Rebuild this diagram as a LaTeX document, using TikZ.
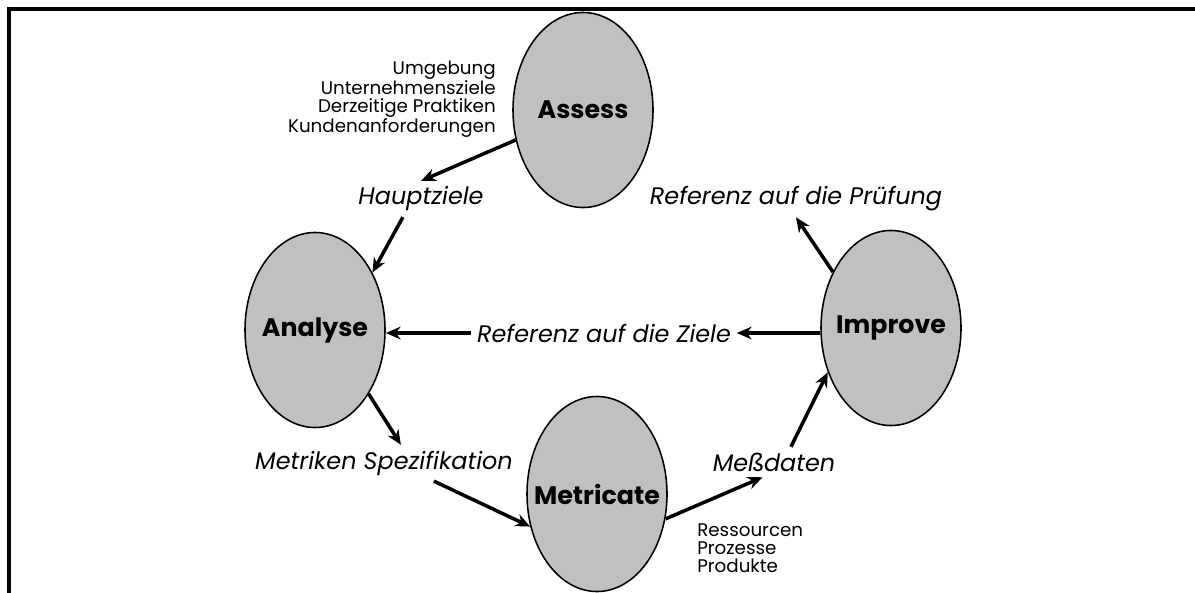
\documentclass[tikz,border=0pt]{standalone}
\usepackage{fontspec}
\setmainfont{Poppins}
\usepackage{tikz}
\usetikzlibrary{arrows.meta,shapes.geometric}

\definecolor{ovalgray}{RGB}{192,192,192}

\begin{document}
\begin{tikzpicture}[x=0.025cm,y=-0.025cm,>={Stealth[length=10.5pt,width=9pt]},
        phase/.style={ellipse,draw,line width=1.1pt,fill=ovalgray,
          minimum width=3.5cm,minimum height=4.875cm,inner ysep=0pt,inner xsep=-20pt,
          font=\fontsize{18}{21}\selectfont\bfseries},
        flowtext/.style={inner sep=4pt,font=\fontsize{17}{20}\selectfont\itshape},
        note/.style={inner sep=0pt,font=\fontsize{13}{12.6}\selectfont},
        flow/.style={->,line width=2.5pt}]

  \clip (0,0) rectangle (1195,592);
  \draw[line width=2.3pt] (9,620) -- (9,9) -- (1220,9);

  \node[phase] (assess)    at (583,110) {Assess};
  \node[phase] (analyse)   at (315,330) {Analyse};
  \node[phase] (improve)   at (891,328) {Improve};
  \node[phase] (metricate) at (597,494) {Metricate};

  \node[flowtext] (hz)      at (421,199) {Hauptziele};
  \node[flowtext] (refp)    at (796,199) {Referenz auf die Prüfung};
  \node[flowtext] (refz)    at (604,333) {Referenz auf die Ziele};
  \node[flowtext] (metspez) at (384,463) {Metriken Spezifikation};
  \node[flowtext] (mess)    at (774,462) {Meßdaten};

  \node[note,align=right,anchor=east] (context) at (496,99)
    {Umgebung\\Unternehmensziele\\Derzeitige Praktiken\\Kundenanforderungen};
  \node[note,align=left,anchor=west] (objects) at (697,548)
    {Ressourcen\\Prozesse\\Produkte};

  \path (assess.204)    edge[flow] (hz.north)
        (hz.225)        edge[flow] (analyse.45)
        (analyse.-50)   edge[flow] (metspez.47)
        (metspez.-20)   edge[flow] (metricate.206)
        (metricate.-20) edge[flow] (mess.233)
        (mess.42)       edge[flow] (improve.215)
        (improve.136)   edge[flow] (refp.south)
        (refz.east -| improve.west) edge[flow] (refz.east)
        (refz.west)     edge[flow] (refz.west -| analyse.east);

\end{tikzpicture}
\end{document}
